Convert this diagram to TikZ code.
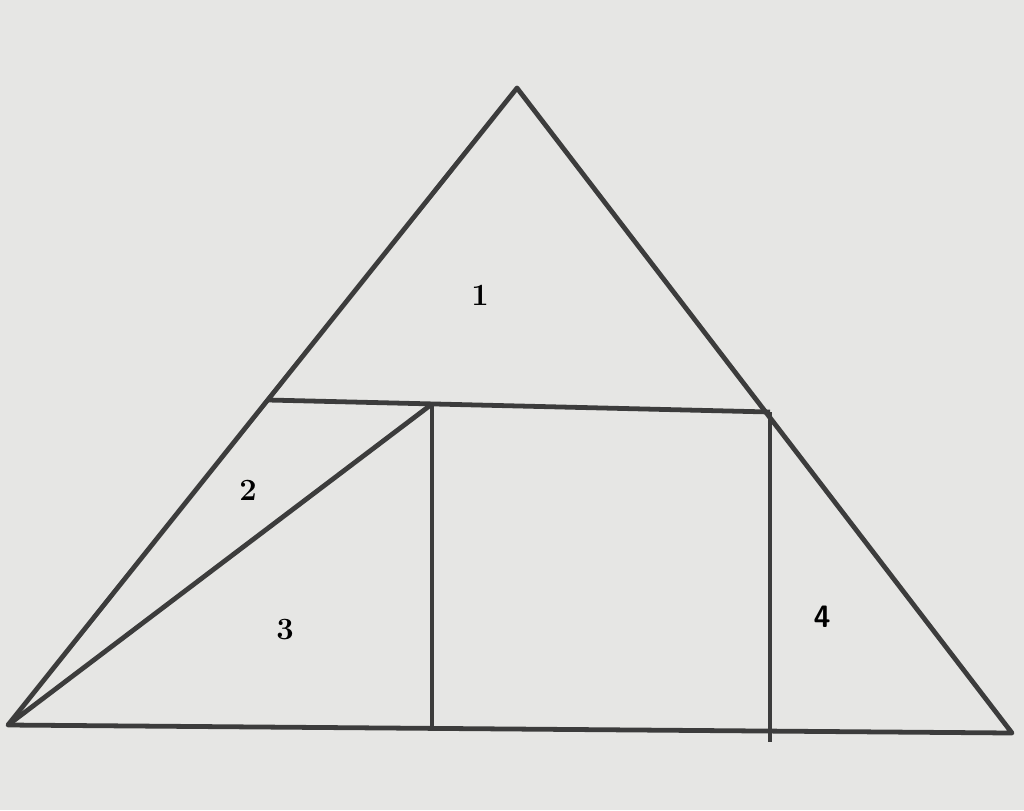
\documentclass[tikz,border=0pt]{standalone}
\usepackage{tikz}
\definecolor{paper}{HTML}{E6E6E4}
\definecolor{pencil}{HTML}{3C3C3C}
\begin{document}
\begin{tikzpicture}[x=0.025cm,y=-0.025cm]
\fill[paper] (0,0) rectangle (1024,810);
\useasboundingbox (0,0) rectangle (1024,810);
\coordinate (A) at (8,725);
\coordinate (B) at (1012,733);
\coordinate (C) at (517,88);
\coordinate (P) at (268,400);
\coordinate (Q) at (432,404);
\coordinate (R) at (770,412);
\coordinate (Q1) at (432,730);
\coordinate (R1) at (770,742);

\draw[pencil,line width=3.4pt,line join=round] (A) -- (C) -- (B) -- cycle;
\draw[pencil,line width=3.4pt] (P) -- (R);
\draw[pencil,line width=3.4pt] (A) -- (Q);
\draw[pencil,line width=3.2pt] (Q) -- (Q1);
\draw[pencil,line width=3.2pt] (R) -- (R1);

\draw (480,295) node[font=\fontsize{22}{24}\selectfont\bfseries] {1};
\draw (248,490) node[font=\fontsize{22}{24}\selectfont\bfseries] {2};
\draw (285,630) node[font=\fontsize{22}{24}\selectfont\bfseries] {3};
\draw (822,617) node[font=\fontsize{22}{24}\selectfont\sffamily\bfseries] {4};
\end{tikzpicture}
\end{document}
